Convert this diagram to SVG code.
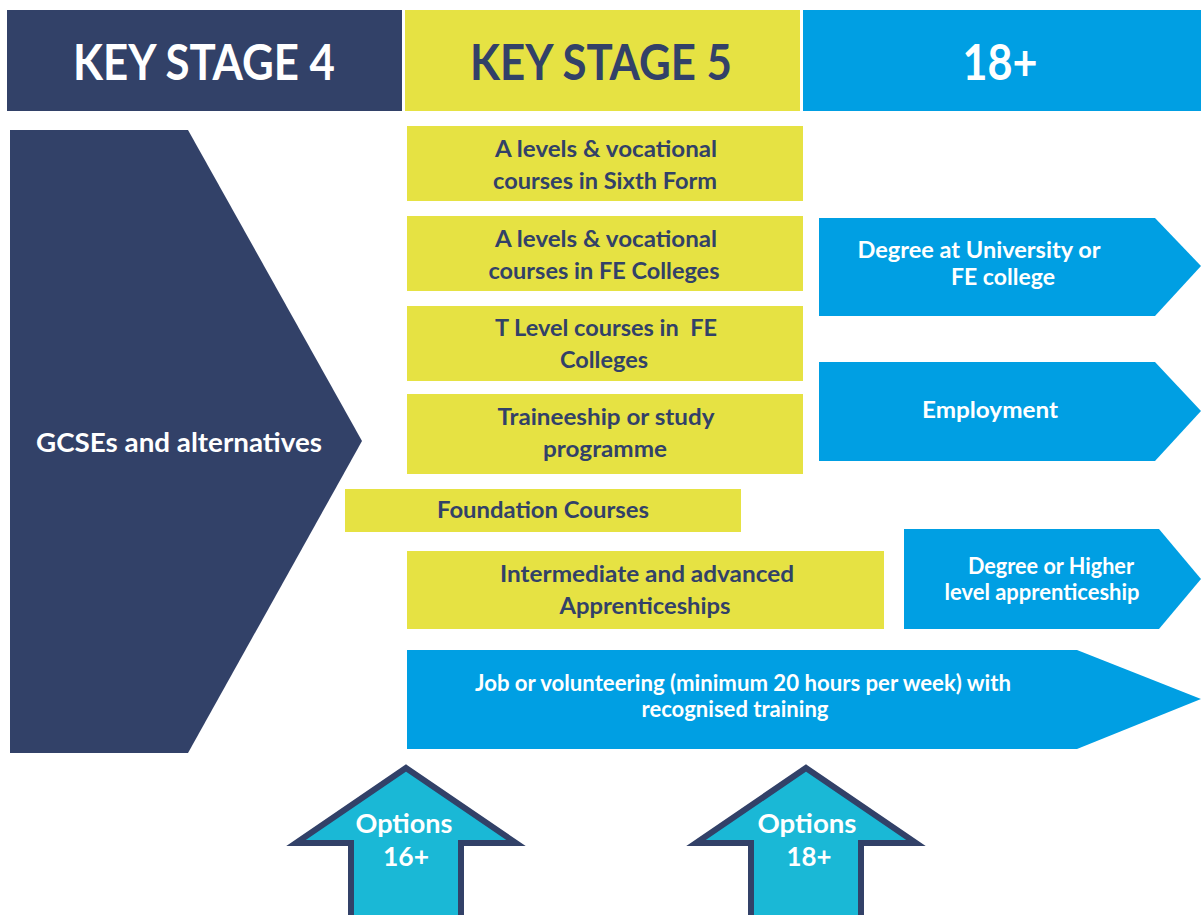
<svg xmlns="http://www.w3.org/2000/svg" width="1201" height="915" viewBox="0 0 1201 915">
<style>
.navy{fill:#324168}
.yel{fill:#e6e243}
.blue{fill:#009fe3}
.cyan{fill:#1ab8d6;stroke:#324168;stroke-width:6;stroke-linejoin:miter}
text{font-family:Lato,"Open Sans","Liberation Sans",sans-serif;font-weight:bold;text-anchor:middle}
.hd{font-size:49px}
.yt{font-size:23px;fill:#324168}
.wt{font-size:22px;fill:#ffffff}
.op{font-size:27px;fill:#ffffff}
</style>
<rect width="1201" height="915" fill="#ffffff"/>
<g id="header-ks4">
<rect class="navy" x="7" y="10" width="395" height="101"/>
<text class="hd" x="204" y="80" fill="#ffffff" textLength="262" lengthAdjust="spacingAndGlyphs">KEY STAGE 4</text>
</g>
<g id="header-ks5">
<rect class="yel" x="405" y="10" width="395" height="101"/>
<text class="hd" x="601" y="80" fill="#324168" textLength="262" lengthAdjust="spacingAndGlyphs">KEY STAGE 5</text>
</g>
<g id="header-18">
<rect class="blue" x="803" y="10" width="398" height="101"/>
<text class="hd" x="1000" y="80" fill="#ffffff" textLength="75" lengthAdjust="spacingAndGlyphs">18+</text>
</g>
<g id="gcse">
<polygon class="navy" points="10,130 188,130 362,441 188,753 10,753"/>
<text x="179" y="452" fill="#ffffff" font-size="26" textLength="286" lengthAdjust="spacingAndGlyphs">GCSEs and alternatives</text>
</g>
<g id="sixth-form">
<rect class="yel" x="407" y="126" width="396" height="75"/>
<text class="yt" x="606" y="157" textLength="222" lengthAdjust="spacingAndGlyphs">A levels &amp; vocational</text>
<text class="yt" x="605" y="189" textLength="224" lengthAdjust="spacingAndGlyphs">courses in Sixth Form</text>
</g>
<g id="fe-colleges">
<rect class="yel" x="407" y="216" width="396" height="75"/>
<text class="yt" x="606" y="247" textLength="222" lengthAdjust="spacingAndGlyphs">A levels &amp; vocational</text>
<text class="yt" x="604" y="279" textLength="231" lengthAdjust="spacingAndGlyphs">courses in FE Colleges</text>
</g>
<g id="t-level">
<rect class="yel" x="407" y="306" width="396" height="75"/>
<text class="yt" x="606" y="336" textLength="222" lengthAdjust="spacingAndGlyphs" xml:space="preserve">T Level courses in  FE</text>
<text class="yt" x="604" y="368" textLength="88" lengthAdjust="spacingAndGlyphs">Colleges</text>
</g>
<g id="traineeship">
<rect class="yel" x="407" y="394" width="396" height="80"/>
<text class="yt" x="606" y="425" textLength="217" lengthAdjust="spacingAndGlyphs">Traineeship or study</text>
<text class="yt" x="605" y="457" textLength="124" lengthAdjust="spacingAndGlyphs">programme</text>
</g>
<g id="foundation">
<rect class="yel" x="345" y="489" width="396" height="43"/>
<text class="yt" x="543" y="518" textLength="212" lengthAdjust="spacingAndGlyphs">Foundation Courses</text>
</g>
<g id="apprenticeships">
<rect class="yel" x="407" y="551" width="477" height="78"/>
<text class="yt" x="647" y="582" textLength="294" lengthAdjust="spacingAndGlyphs">Intermediate and advanced</text>
<text class="yt" x="645" y="614" textLength="171" lengthAdjust="spacingAndGlyphs">Apprenticeships</text>
</g>
<g id="degree-university">
<polygon class="blue" points="819,218 1155,218 1201,266 1155,316 819,316"/>
<text class="wt" x="979" y="258" textLength="243" lengthAdjust="spacingAndGlyphs">Degree at University or</text>
<text class="wt" x="1003" y="285" textLength="104" lengthAdjust="spacingAndGlyphs">FE college</text>
</g>
<g id="employment">
<polygon class="blue" points="819,362 1155,362 1201,411 1155,461 819,461"/>
<text class="wt" x="990" y="418" textLength="136" lengthAdjust="spacingAndGlyphs">Employment</text>
</g>
<g id="degree-higher">
<polygon class="blue" points="904,529 1159,529 1201,579 1159,629 904,629"/>
<text class="wt" x="1051" y="574" font-size="20" textLength="166" lengthAdjust="spacingAndGlyphs">Degree or Higher</text>
<text class="wt" x="1042" y="600" font-size="20" textLength="195" lengthAdjust="spacingAndGlyphs">level apprenticeship</text>
</g>
<g id="job-volunteering">
<polygon class="blue" points="407,650 1077,650 1201,699 1077,749 407,749"/>
<text class="wt" x="743" y="691" font-size="19" textLength="536" lengthAdjust="spacingAndGlyphs">Job or volunteering (minimum 20 hours per week) with</text>
<text class="wt" x="735" y="717" font-size="19" textLength="187" lengthAdjust="spacingAndGlyphs">recognised training</text>
</g>
<g id="options-16">
<polygon class="cyan" points="406,768 516,843 461,843 461,918 351,918 351,843 296,843"/>
<text class="op" x="404" y="833" textLength="97" lengthAdjust="spacingAndGlyphs">Options</text>
<text class="op" x="406" y="866" textLength="46" lengthAdjust="spacingAndGlyphs">16+</text>
</g>
<g id="options-18">
<polygon class="cyan" points="806,768 916,843 861,843 861,918 751,918 751,843 696,843"/>
<text class="op" x="807" y="833" textLength="99" lengthAdjust="spacingAndGlyphs">Options</text>
<text class="op" x="809" y="866" textLength="45" lengthAdjust="spacingAndGlyphs">18+</text>
</g>
<g id="connectors"/>
</svg>
